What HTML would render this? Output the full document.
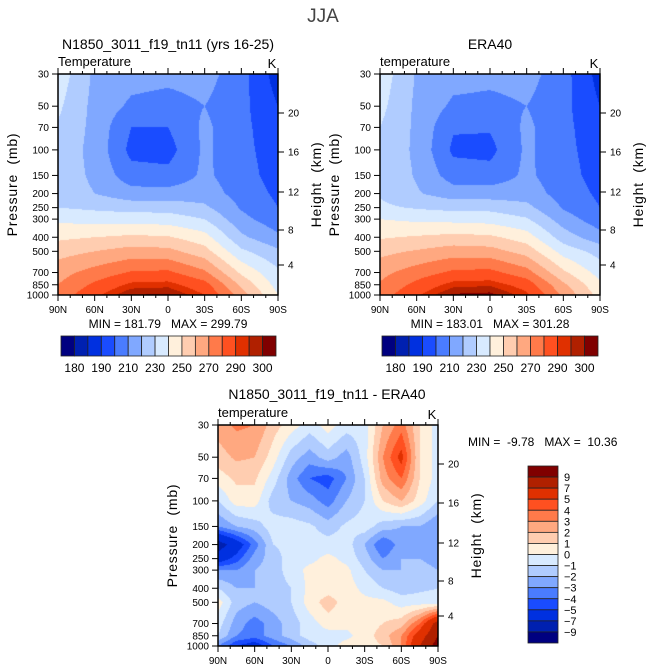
<!DOCTYPE html>
<html><head><meta charset="utf-8">
<style>
body{margin:0;background:#fff;width:647px;height:670px;overflow:hidden;position:relative;font-family:"Liberation Sans",sans-serif}
canvas{position:absolute}
svg{position:absolute;left:0;top:0}
svg text{white-space:pre}
</style></head>
<body>
<canvas id="c1" width="220" height="221" style="left:58px;top:74px"></canvas>
<canvas id="c2" width="220" height="221" style="left:380px;top:74px"></canvas>
<canvas id="c3" width="220" height="221" style="left:218px;top:425px"></canvas>
<svg id="s" width="647" height="670"></svg>
<script>
const pLevels=[30,50,70,100,150,200,250,300,400,500,700,850,1000];
const tempLats=["90N","60N","30N","0","30S","60S","90S"];
const modelT=[
[236,218,214,213,214,204,185],
[232,217,208,206,210,203,190],
[229,217,200,200,212,203,193],
[226,217,197,196,212,203,195],
[226,218,204,203,212,204,196],
[226,220,214,214,215,206,198],
[230,228,226,226,222,209,200],
[238,236,236,235,230,213,204],
[248,250,252,251,244,222,212],
[256,260,264,263,254,232,222],
[266,274,281,282,272,248,232],
[270,282,292,293,284,258,236],
[274,288,300,301,290,265,240]];
const eraT=[
[236,219,214,213,214,204,186],
[233,218,208,207,210,203,190],
[230,218,201,201,212,203,193],
[228,218,198,197,212,203,195],
[228,219,205,204,212,204,196],
[229,221,215,215,215,206,198],
[232,229,227,227,223,209,200],
[240,238,237,236,231,215,204],
[249,251,253,252,245,225,214],
[257,261,265,264,256,236,226],
[267,275,282,283,274,252,236],
[271,283,293,294,286,262,242],
[275,289,301,302,292,268,246]];
const diffLats=["90N","75N","60N","45N","30N","15N","0","15S","30S","45S","60S","75S","90S"];
const diffT=[
[2.5,3.2,3,1.5,0.5,-0.5,0.5,-0.5,-0.5,2,3.5,1,-0.5],
[1.5,2.2,2,0.5,-1.5,-2.5,-1.5,-2.5,-0.5,3,5.5,1,-0.5],
[0.5,1.2,1.2,-0.5,-2.5,-4,-4.5,-3,-1,2.5,4,1,-0.5],
[-1,0.5,0.5,-1.5,-2,-2.5,-3.5,-2,-1,1,2,0.5,-1],
[-3,-2,-1.5,-0.5,-0.5,-0.8,-1.5,-0.8,-0.5,-1.5,-2,-2,-3],
[-8,-6,-3.5,-1,-0.7,-0.5,-0.6,-0.5,-2,-4,-2.5,-2,-3],
[-6,-4.5,-2.5,-1.5,-0.5,-0.3,0.3,-0.3,-1.5,-3,-2,-2,-2.5],
[-3,-3,-2,-1.5,-0.5,0.3,0.5,0.3,-1,-2,-2,-1.5,-2],
[-1,-2,-2,-1.5,-1,0.3,0.5,0.5,-0.3,-1,-1.5,-1.2,-1],
[0.5,-1.5,-2,-1.5,-1,0.5,1.5,0.5,0.3,0.3,-0.5,-0.5,-0.5],
[-0.5,-2.5,-3.5,-2.5,-1.5,-0.5,0.5,0.3,0.5,1,1.5,4,8],
[-1,-3,-3.5,-2.5,-1.5,-0.5,-0.5,-0.3,0.5,1.5,3,6,9],
[-3,-5,-6,-4,-3,-1.5,-0.5,0.5,0.5,1,3,7,10]];
const tempLevels=[180,185,190,200,210,220,230,240,250,260,270,280,290,295,300];
const tempLabels=["180","190","210","230","250","270","290","300"];
const diffLevels=[-9,-7,-5,-4,-3,-2,-1,0,1,2,3,4,5,7,9];
const diffLabels=["9","7","5","4","3","2","1","0","\u22121","\u22122","\u22123","\u22124","\u22125","\u22127","\u22129"];
const xLabels=["90N","60N","30N","0","30S","60S","90S"];
const heightKm=[20,16,12,8,4];
const heightOff=[39,78,118,156,191];
const palette=["#000080","#0020b0","#0030e0","#1a4cff","#4a7cff","#80a8ff","#b0ccff","#d8eaff","#fff0dc","#ffcdb0","#ffa880","#ff7a4a","#ff5020","#e03000","#b02000","#800000"];

const W=220,H=221,LP0=Math.log(30),LP1=Math.log(1000);
function yOfP(p,top){return top+(Math.log(p)-LP0)/(LP1-LP0)*H;}
function hex(c){return [parseInt(c.substr(1,2),16),parseInt(c.substr(3,2),16),parseInt(c.substr(5,2),16)];}
const pal=palette.map(hex);
function drawField(id,grid,levels){
  const cv=document.getElementById(id),ctx=cv.getContext('2d');
  const img=ctx.createImageData(W,H);const nx=grid[0].length;
  const lp=pLevels.map(Math.log);
  for(let j=0;j<H;j++){
    const L=LP0+(j+0.5)/H*(LP1-LP0);
    let k=0;while(k<lp.length-2&&L>lp[k+1])k++;
    const ty=Math.min(1,Math.max(0,(L-lp[k])/(lp[k+1]-lp[k])));
    for(let i=0;i<W;i++){
      const fx=(i+0.5)/W*(nx-1);let a=Math.min(nx-2,Math.floor(fx));const tx=fx-a;
      const v=(grid[k][a]*(1-tx)+grid[k][a+1]*tx)*(1-ty)+(grid[k+1][a]*(1-tx)+grid[k+1][a+1]*tx)*ty;
      let idx=0;while(idx<levels.length&&v>=levels[idx])idx++;
      const c=pal[idx],o=(j*W+i)*4;
      img.data[o]=c[0];img.data[o+1]=c[1];img.data[o+2]=c[2];img.data[o+3]=255;
    }
  }
  ctx.putImageData(img,0,0);
}
drawField('c1',modelT,tempLevels);
drawField('c2',eraT,tempLevels);
drawField('c3',diffT,diffLevels);

const svg=document.getElementById('s');const NS="http://www.w3.org/2000/svg";
function el(tag,attrs,parent){const e=document.createElementNS(NS,tag);for(const k in attrs)e.setAttribute(k,attrs[k]);(parent||svg).appendChild(e);return e;}
function txt(x,y,s,size,anchor,name,extra){const t=el('text',Object.assign({x:x,y:y,'font-size':size,'text-anchor':anchor||'middle','font-family':'Liberation Sans, sans-serif',fill:'#000'},extra||{}));t.textContent=s;


return t;}

function axes(L,T,pref,sub){
  const g=el('g',{});
  
  
  el('rect',{x:L,y:T,width:W,height:H,fill:'none',stroke:'#000','stroke-width':1.5},g);
  for(let d=0;d<=18;d++){const x=L+d/18*W;const maj=d%3===0;
    el('line',{x1:x,y1:T,x2:x,y2:T-(maj?6:3),stroke:'#000'},g);
    el('line',{x1:x,y1:T+H,x2:x,y2:T+H+(maj?6:3),stroke:'#000'},g);}
  xLabels.forEach((s,i)=>txt(L+i/6*W,T+H+18,s,10,'middle',pref+'-x-tick-label'));
  pLevels.forEach(p=>{const y=yOfP(p,T);el('line',{x1:L,y1:y,x2:L-6,y2:y,stroke:'#000'},g);
    txt(L-9,y+3.5,String(p),10,'end',pref+'-y-tick-label');});
  heightKm.forEach((h,i)=>{const y=T+heightOff[i];el('line',{x1:L+W,y1:y,x2:L+W+6,y2:y,stroke:'#000'},g);
    txt(L+W+10,y+3.5,String(h),10,'start',pref+'-height-tick-label');});
  txt(L-41,T+H/2,'Pressure  (mb)',14,'middle',pref+'-y-axis-title',{transform:`rotate(-90 ${L-41} ${T+H/2})`,'letter-spacing':'0.8'});
  txt(L+W+43,T+H/2,'Height  (km)',14,'middle',pref+'-height-axis-title',{transform:`rotate(-90 ${L+W+43} ${T+H/2})`,'letter-spacing':'0.8'});
  txt(L,T-8,sub,13,'start',pref+'-variable-label');
  txt(L+W-6,T-6,'K',13,'middle',pref+'-units-label');
}
function hbar(L,T,w,h,pref){
  const bw=w/16;
  palette.forEach((c,i)=>{const r=el('rect',{x:L+i*bw,y:T,width:bw,height:h,fill:c,stroke:'#222','stroke-width':0.8});
    });
  tempLabels.forEach((s,i)=>txt(L+(2*i+1)*bw,T+h+16,s,12,'middle',pref+'-colorbar-label'));
}
txt(323,22,'JJA',19,'middle','figure-title',{fill:'#444'});
txt(168,49,'N1850_3011_f19_tn11 (yrs 16-25)',14,'middle','model-panel-title');
txt(490,49,'ERA40',14,'middle','era40-panel-title');
axes(58,74,'model','Temperature');
axes(380,74,'era40','temperature');
txt(168,328,'MIN = 181.79   MAX = 299.79',12,'middle','model-min-max');
txt(490,328,'MIN = 183.01   MAX = 301.28',12,'middle','era40-min-max');
hbar(61,336,215,20,'model');
hbar(382,336,216,20,'era40');
txt(327,399,'N1850_3011_f19_tn11 - ERA40',14,'middle','difference-panel-title');
axes(218,425,'difference','temperature');
txt(468,446,'MIN =  -9.78   MAX =  10.36',12,'start','difference-min-max');
(function(){const L=528,T=466,w=30,h=177,bh=h/16;
  palette.slice().reverse().forEach((c,i)=>{const r=el('rect',{x:L,y:T+i*bh,width:w,height:bh,fill:c,stroke:'#222','stroke-width':0.8});
    });
  diffLabels.forEach((s,i)=>txt(L+w+6,T+(i+1)*bh+4,s,11,'start','difference-colorbar-label'));
})();
</script>
</body></html>
